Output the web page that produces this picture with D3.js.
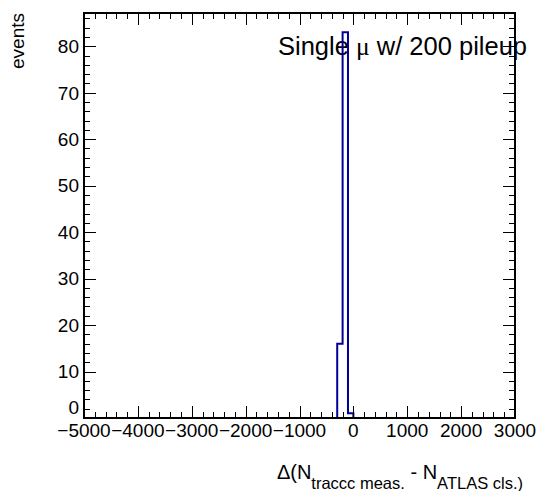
<!DOCTYPE html>
<html><head><meta charset="utf-8">
<script src="https://cdn.jsdelivr.net/npm/d3@7"></script>
<style>
html,body{margin:0;padding:0;background:#fff;}
svg{display:block;font-family:"Liberation Sans",Arial,Helvetica,sans-serif;}
</style></head>
<body><svg id="c" width="538" height="491"></svg>
<script>
// ---- data ----
const xDomain = [-5000, 3000];
const binWidth = 100;
const binLowEdges = [-300, -200, -100];   // non-empty bins (lower edges)
const binCounts   = [16, 83, 1];
const yMax = 87.15;
const xMajorTicks = [-5000,-4000,-3000,-2000,-1000,0,1000,2000,3000];
const yMajorTicks = [0,10,20,30,40,50,60,70,80];
const xTickLabels = ["\u22125000","\u22124000","\u22123000","\u22122000","\u22121000","0","1000","2000","3000"];
const yTickLabels = ["0","10","20","30","40","50","60","70","80"];

const L=84, R=515, T=13, B=418;
const svg = d3.select("#c");
const x = d3.scaleLinear().domain(xDomain).range([L,R]);
const y = d3.scaleLinear().domain([0,yMax]).range([B,T]);

// label text
const lab = svg.append("text").attr("x",278).attr("y",55).attr("font-size",25.5).attr("fill","#000");
lab.append("tspan").text("Single ");
lab.append("tspan").attr("font-family","'Liberation Serif',serif").text("\u03bc");
lab.append("tspan").text(" w/ 200 pileup");

// histogram
const counts = new Map(binLowEdges.map((e,i)=>[e,binCounts[i]]));
const pts = [[xDomain[0],0]];
for (let lo = xDomain[0]; lo < xDomain[1]; lo += binWidth) {
  const c = counts.get(lo) || 0;
  pts.push([lo,c],[lo+binWidth,c]);
}
pts.push([xDomain[1],0]);
svg.append("path").attr("d", d3.line().x(d=>x(d[0])).y(d=>y(d[1]))(pts))
  .attr("fill","none").attr("stroke","#000099").attr("stroke-width",2);

// ticks (as paths)
const xMinor = d3.range(xDomain[0], xDomain[1]+1, 200).filter(v=>v%1000!==0);
const yMinor = d3.range(0, yMax, 2).filter(v=>v%10!==0);
function xTickPath(vals,len){
  const p = d3.path();
  vals.forEach(v=>{ const px=Math.round(x(v))+0.5;
    p.moveTo(px,B); p.lineTo(px,B-len); p.moveTo(px,T); p.lineTo(px,T+len); });
  return p.toString();
}
function yTickPath(vals,len){
  const p = d3.path();
  vals.forEach(v=>{ const py=Math.round(y(v))+0.5;
    p.moveTo(L,py); p.lineTo(L+len,py); p.moveTo(R,py); p.lineTo(R-len,py); });
  return p.toString();
}
[xTickPath(xMajorTicks,12), xTickPath(xMinor,6), yTickPath(yMajorTicks,12), yTickPath(yMinor,6)]
  .forEach(d=>svg.append("path").attr("d",d).attr("fill","none").attr("stroke","#000").attr("stroke-width",1));

// tick labels
svg.append("g").selectAll("text").data(xMajorTicks).join("text")
  .attr("x",d=>x(d)).attr("y",437).attr("text-anchor","middle").attr("font-size",19).attr("fill","#000")
  .text((d,i)=>xTickLabels[i]);
svg.append("g").selectAll("text").data(yMajorTicks).join("text")
  .attr("x",79).attr("y",d=>y(d)).attr("dy",d=>d===0?"-0.2em":"0.36em").attr("text-anchor","end")
  .attr("font-size",19).attr("fill","#000").text((d,i)=>yTickLabels[i]);

// frame
svg.append("rect").attr("x",L).attr("y",T).attr("width",R-L).attr("height",B-T)
  .attr("fill","none").attr("stroke","#000").attr("stroke-width",2);

// x title
const xtt = svg.append("text").attr("x",523).attr("y",479).attr("text-anchor","end").attr("font-size",20).attr("fill","#000");
xtt.append("tspan").text("\u0394(N");
xtt.append("tspan").attr("font-size",16.5).attr("dy",10).text("traccc meas.");
xtt.append("tspan").attr("dy",-10).text(" - N");
xtt.append("tspan").attr("font-size",16.5).attr("dy",10).text("ATLAS cls.)");

// y title
svg.append("text").attr("transform","translate(24,13) rotate(-90)").attr("text-anchor","end")
  .attr("font-size",19).attr("fill","#000").text("events");
</script></body></html>
